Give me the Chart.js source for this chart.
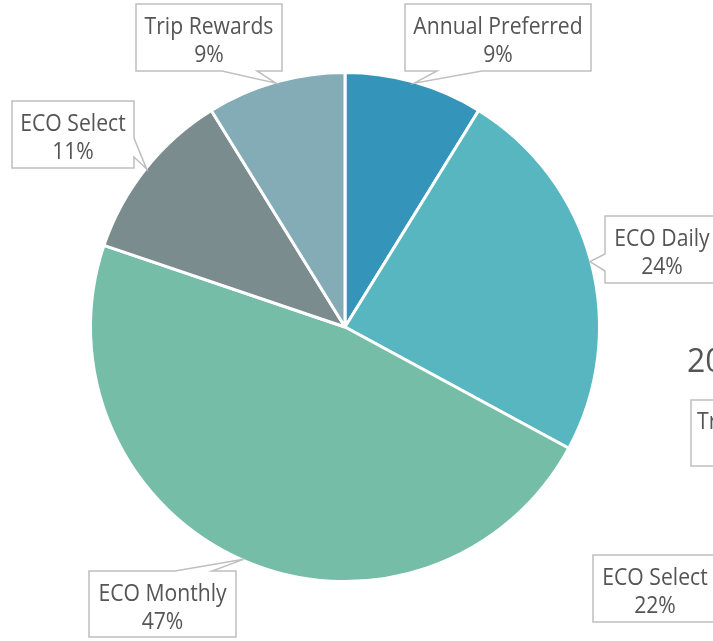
<!DOCTYPE html>
<html>
<head>
<meta charset="utf-8">
<script src="https://cdn.jsdelivr.net/npm/chart.js@4.4.0/dist/chart.umd.min.js"></script>
<style>
  html, body { margin: 0; padding: 0; background: #fff; overflow: hidden; }
  #wrap { position: relative; width: 713px; height: 641px; }
</style>
</head>
<body>
<div id="wrap"><canvas id="pie" width="713" height="641"></canvas></div>
<script>
// -------------------------
// DATA
// -------------------------
const categories = ["Annual Preferred", "ECO Daily", "ECO Monthly", "ECO Select", "Trip Rewards"];
const shares = [8.8, 24.1, 47.3, 11.0, 8.8];
const sliceColors = ["#3494BA", "#58B6C0", "#75BDA7", "#7A8C8E", "#84ACB6"];

// neighbouring chart that is cut off at the right edge
const sideTitle = "20";
const sideLabel = "ECO Select";
const sideValue = "22%";

// -------------------------
// CALLOUT BOXES (layout only)
// -------------------------
const callouts = [
  { x: 405, y: 4,   w: 186, h: 67, side: "bottom", b1: 437, b2: 482 },
  { x: 605, y: 216, w: 114, h: 67, side: "left",   b1: 254, b2: 271 },
  { x: 89,  y: 571, w: 147, h: 66, side: "top",    b1: 175, b2: 212 },
  { x: 12,  y: 101, w: 122, h: 67, side: "right",  b1: 138, b2: 157 },
  { x: 136, y: 4,   w: 146, h: 67, side: "bottom", b1: 222, b2: 257 }
];

const FONT = "'Open Sans'";
const TEXT_COLOR = "#555555";
const BOX_LINE = "#BFBFBF";

function drawLines(ctx, lines, cx, top) {
  ctx.save();
  ctx.fillStyle = TEXT_COLOR;
  ctx.font = "23px " + FONT;
  ctx.textAlign = "center";
  ctx.textBaseline = "alphabetic";
  lines.forEach((t, i) => {
    ctx.save();
    ctx.translate(cx, top + 30 + i * 28);
    ctx.scale(0.92, 1);
    ctx.fillText(t, 0, 0);
    ctx.restore();
  });
  ctx.restore();
}

function calloutPath(ctx, c, tip) {
  const r = c.x + c.w, b = c.y + c.h;
  ctx.beginPath();
  ctx.moveTo(c.x, c.y);
  if (c.side === "top") {
    ctx.lineTo(c.b1, c.y); ctx.lineTo(tip.x, tip.y); ctx.lineTo(c.b2, c.y);
  }
  ctx.lineTo(r, c.y);
  if (c.side === "right") {
    ctx.lineTo(r, c.b1); ctx.lineTo(tip.x, tip.y); ctx.lineTo(r, c.b2);
  }
  ctx.lineTo(r, b);
  if (c.side === "bottom") {
    ctx.lineTo(c.b2, b); ctx.lineTo(tip.x, tip.y); ctx.lineTo(c.b1, b);
  }
  ctx.lineTo(c.x, b);
  if (c.side === "left") {
    ctx.lineTo(c.x, c.b2); ctx.lineTo(tip.x, tip.y); ctx.lineTo(c.x, c.b1);
  }
  ctx.closePath();
}

// -------------------------
// CALLOUT PLUGIN
// -------------------------
const calloutPlugin = {
  id: "callouts",
  afterDraw(chart) {
    const ctx = chart.ctx;
    const meta = chart.getDatasetMeta(0);
    const data = chart.data.datasets[0].data;
    const total = data.reduce((a, b) => a + b, 0);

    meta.data.forEach((arc, i) => {
      const p = arc.getProps(["x", "y", "startAngle", "endAngle", "outerRadius"], true);
      const mid = (p.startAngle + p.endAngle) / 2;
      const tip = {
        x: p.x + Math.cos(mid) * (p.outerRadius - 1),
        y: p.y + Math.sin(mid) * (p.outerRadius - 1)
      };
      const c = callouts[i];
      ctx.save();
      calloutPath(ctx, c, tip);
      ctx.fillStyle = "#fff";
      ctx.fill();
      ctx.strokeStyle = BOX_LINE;
      ctx.lineWidth = 1.5;
      ctx.stroke();
      ctx.restore();
      const pct = Math.round(data[i] / total * 100) + "%";
      drawLines(ctx, [chart.data.labels[i], pct], c.x + c.w / 2, c.y);
    });

    // pieces of the next chart, clipped by the page edge
    ctx.save();
    ctx.fillStyle = TEXT_COLOR;
    ctx.font = "32px " + FONT;
    ctx.textAlign = "left";
    ctx.fillText(sideTitle, 687, 372);
    ctx.strokeStyle = BOX_LINE;
    ctx.lineWidth = 1.5;
    ctx.strokeRect(691, 400, 120, 66);
    ctx.font = "23px " + FONT;
    ctx.save();
    ctx.translate(697, 429);
    ctx.scale(0.92, 1);
    ctx.fillText("Trip", 0, 0);
    ctx.restore();
    ctx.strokeRect(593, 555, 124, 67);
    ctx.restore();
    drawLines(ctx, [sideLabel, sideValue], 655, 555);
  }
};

// -------------------------
// INIT CHART
// -------------------------
function initChart() {
  const ctx = document.getElementById("pie").getContext("2d");

  new Chart(ctx, {
    type: "pie",
    data: {
      labels: categories,
      datasets: [{
        data: shares,
        backgroundColor: sliceColors,
        borderColor: "#ffffff",
        borderWidth: 3
      }]
    },
    options: {
      responsive: false,
      animation: false,
      layout: { padding: { left: 89, right: 112, top: 71, bottom: 58 } },
      plugins: {
        legend: { display: false },
        tooltip: { enabled: false }
      }
    },
    plugins: [calloutPlugin]
  });
}

Promise.all([
  document.fonts.load("23px " + FONT),
  document.fonts.load("32px " + FONT)
]).then(initChart, initChart);
</script>
</body>
</html>
